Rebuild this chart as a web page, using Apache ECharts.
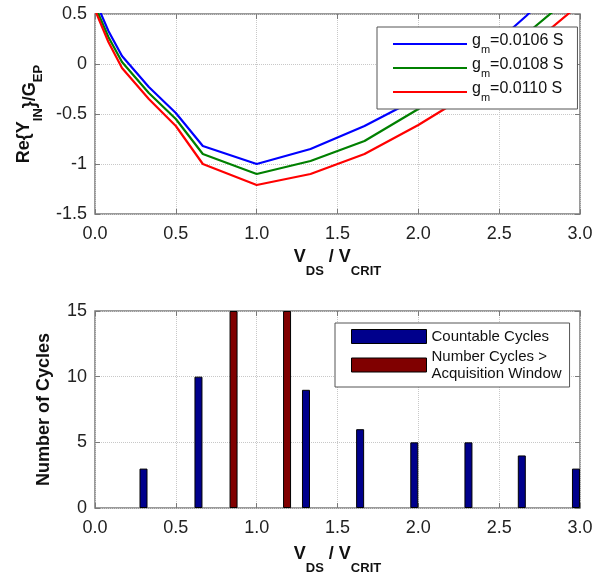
<!DOCTYPE html>
<html>
<head>
<meta charset="utf-8">
<script src="https://cdn.jsdelivr.net/npm/echarts@6/dist/echarts.min.js"></script>
<style>
html,body{margin:0;padding:0;background:#fff;}
#chart{width:603px;height:576px;}
</style>
</head>
<body>
<div id="chart"></div>
<script>
// ---- data ----
var lineX = [0, 0.083, 0.167, 0.333, 0.5, 0.667, 1.0, 1.333, 1.667, 2.0, 2.333, 2.667, 3.0];
var gm0106 = [0.64, 0.33, 0.08, -0.23, -0.49, -0.82, -1.0, -0.85, -0.62, -0.34, 0.0, 0.48, 1.0];
var gm0108 = [0.58, 0.27, 0.02, -0.29, -0.55, -0.90, -1.10, -0.97, -0.77, -0.45, -0.10, 0.30, 0.75];
var gm0110 = [0.54, 0.22, -0.04, -0.35, -0.62, -1.0, -1.21, -1.10, -0.90, -0.61, -0.28, 0.15, 0.60];
var lineNames = ['gm=0.0106 S', 'gm=0.0108 S', 'gm=0.0110 S'];

var countX = [0.30, 0.64, 1.305, 1.64, 1.975, 2.31, 2.64, 2.975];
var countY = [3, 10, 9, 6, 5, 5, 4, 3];
var overX = [0.857, 1.188];
var overY = [15, 15];
var barNames = ['Countable Cycles', 'Number Cycles >\nAcquisition Window'];

// ---- chart ----
var FONT = '"Liberation Sans", Arial, Helvetica, sans-serif';
function pairs(xs, ys){ return xs.map(function(x,i){ return [x, ys[i]]; }); }

var gridColor = '#c8c8c8';
var frameColor = '#7a7a7a';
var subRich = {
  a:{fontSize:18, fontWeight:'bold', fontFamily:FONT, color:'#111', lineHeight:20, verticalAlign:'top'},
  s:{fontSize:13, fontWeight:'bold', fontFamily:FONT, color:'#111', lineHeight:30, verticalAlign:'bottom'}
};

function xAxisMain(gi, gap){
  return {
    type:'value', gridIndex:gi, min:0, max:3, interval:0.5, position:'bottom',
    axisLine:{show:false, onZero:false}, axisTick:{show:true, inside:true, length:5, lineStyle:{color:frameColor}},
    axisLabel:{color:'#222', fontSize:18, fontFamily:FONT, margin:11, formatter:function(v){return v.toFixed(1);}},
    splitLine:{show:true, lineStyle:{color:gridColor, type:'dotted', width:1}},
    name:'{a|V}{s|DS}{a| / V}{s|CRIT}', nameLocation:'middle', nameGap:gap,
    nameTextStyle:{fontSize:18, fontWeight:'bold', fontFamily:FONT, color:'#111', rich:subRich}
  };
}
function xAxisTop(gi){
  return {
    type:'value', gridIndex:gi, min:0, max:3, interval:0.5, position:'top',
    axisLine:{show:false, onZero:false}, axisTick:{show:true, inside:true, length:5, lineStyle:{color:frameColor}},
    axisLabel:{show:false}, splitLine:{show:false}
  };
}
function yAxisRight(gi, min, max, iv){
  return {
    type:'value', gridIndex:gi, min:min, max:max, interval:iv, position:'right',
    axisLine:{show:false, onZero:false}, axisTick:{show:true, inside:true, length:5, lineStyle:{color:frameColor}},
    axisLabel:{show:false}, splitLine:{show:false}
  };
}

var chart = echarts.init(document.getElementById('chart'), null, {renderer:'canvas'});
var colors = ['#0000ff', '#008000', '#ff0000'];
var lineData = [gm0106, gm0108, gm0110];

var series = lineData.map(function(ys, i){
  return {
    name: lineNames[i], type:'line', xAxisIndex:0, yAxisIndex:0,
    data: pairs(lineX, ys), symbol:'none', clip:true,
    lineStyle:{color:colors[i], width:2.2}, itemStyle:{color:colors[i]}, z:3
  };
});
series.push({
  name: barNames[0], type:'bar', xAxisIndex:2, yAxisIndex:2,
  data: pairs(countX, countY), barWidth:8, barGap:'-100%',
  itemStyle:{color:'#00008c', borderColor:'#000', borderWidth:1}, z:3
});
series.push({
  name: barNames[1], type:'bar', xAxisIndex:2, yAxisIndex:2,
  data: pairs(overX, overY), barWidth:8, barGap:'-100%',
  itemStyle:{color:'#800000', borderColor:'#000', borderWidth:1}, z:3
});

var option = {
  animation:false,
  backgroundColor:'#fff',
  grid:[
    {left:95, top:14, width:485, height:200, show:true, borderColor:frameColor, borderWidth:1.5, backgroundColor:'transparent'},
    {left:95, top:311, width:485, height:201, show:true, borderColor:frameColor, borderWidth:1.5, backgroundColor:'transparent'}
  ],
  xAxis:[ xAxisMain(0, 34), xAxisTop(0), xAxisMain(1, 37), xAxisTop(1) ],
  yAxis:[
    {
      type:'value', gridIndex:0, min:-1.5, max:0.5, interval:0.5, position:'left',
      axisLine:{show:false, onZero:false}, axisTick:{show:true, inside:true, length:5, lineStyle:{color:frameColor}},
      axisLabel:{color:'#222', fontSize:18, fontFamily:FONT, margin:8,
        formatter:function(v){ return (Math.abs(v - Math.round(v)) < 1e-9) ? String(Math.round(v)) : String(v); }},
      splitLine:{show:true, lineStyle:{color:gridColor, type:'dotted', width:1}},
      name:'{a|Re\{Y}{s|IN}}/G{s|EP}', nameLocation:'middle', nameGap:50, nameRotate:90,
      nameTextStyle:{fontSize:18, fontWeight:'bold', fontFamily:FONT, color:'#111', lineHeight:20, verticalAlign:'top', rich:subRich}
    },
    yAxisRight(0, -1.5, 0.5, 0.5),
    {
      type:'value', gridIndex:1, min:0, max:15, interval:5, position:'left',
      axisLine:{show:false, onZero:false}, axisTick:{show:true, inside:true, length:5, lineStyle:{color:frameColor}},
      axisLabel:{color:'#222', fontSize:18, fontFamily:FONT, margin:8},
      splitLine:{show:true, lineStyle:{color:gridColor, type:'dotted', width:1}},
      name:'Number of Cycles', nameLocation:'middle', nameGap:42, nameRotate:90,
      nameTextStyle:{fontSize:18, fontWeight:'bold', fontFamily:FONT, color:'#111'}
    },
    yAxisRight(1, 0, 15, 5)
  ],
  legend:[
    {
      data: lineNames, orient:'vertical', left:377, top:27,
      padding:[6, 14, 6, 16], itemGap:2, itemWidth:74, itemHeight:2, icon:'rect',
      backgroundColor:'#fff', borderColor:'#555', borderWidth:1, z:10,
      textStyle:{fontFamily:FONT, fontSize:16, color:'#111',
        rich:{
          a:{fontSize:16, fontFamily:FONT, color:'#111', lineHeight:16, verticalAlign:'top'},
          s:{fontSize:11, fontFamily:FONT, color:'#111', lineHeight:22, verticalAlign:'bottom'}
        }},
      formatter:function(n){ return '{a|g}{s|m}{a|' + n.slice(2) + '}'; }
    },
    {
      data: barNames, orient:'vertical', left:335, top:323,
      padding:[5, 8, 5, 16], itemGap:3, itemWidth:75, itemHeight:14, icon:'rect',
      backgroundColor:'#fff', borderColor:'#555', borderWidth:1, z:10,
      itemStyle:{borderColor:'#000', borderWidth:1},
      textStyle:{fontFamily:FONT, fontSize:15, color:'#111', lineHeight:17}
    }
  ],
  series: series
};
chart.setOption(option);
</script>
</body>
</html>
